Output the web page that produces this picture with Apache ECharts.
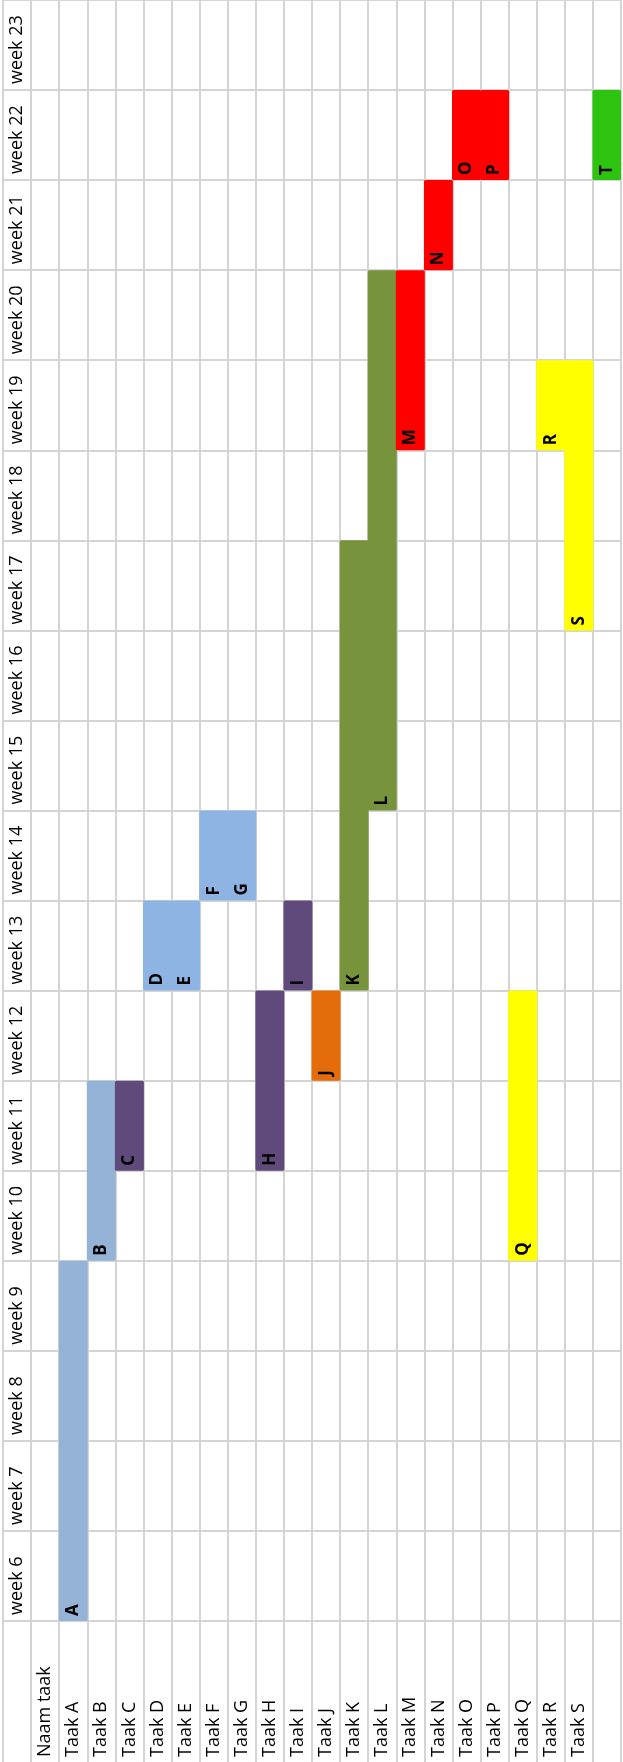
<!DOCTYPE html>
<html><head><meta charset="utf-8">
<script src="https://cdn.jsdelivr.net/npm/echarts@6/dist/echarts.min.js"></script>
<style>html,body{margin:0;padding:0;background:#fff}#c{width:623px;height:1762px}</style>
</head><body><div id="c"></div>
<script>
// Column labels (bottom, rotated); first column holds week labels, last column is unnamed (task T)
const columnLabels = ['', 'Naam taak', 'Taak A', 'Taak B', 'Taak C', 'Taak D', 'Taak E', 'Taak F', 'Taak G',
  'Taak H', 'Taak I', 'Taak J', 'Taak K', 'Taak L', 'Taak M', 'Taak N', 'Taak O', 'Taak P', 'Taak Q',
  'Taak R', 'Taak S', ''];
const weekLabels = ['week 6', 'week 7', 'week 8', 'week 9', 'week 10', 'week 11', 'week 12', 'week 13',
  'week 14', 'week 15', 'week 16', 'week 17', 'week 18', 'week 19', 'week 20', 'week 21', 'week 22', 'week 23'];
const firstWeek = 6;
const lastWeek = 23;

// Tasks (letter shown in bar), start week and number of weeks
const taskLetters = ['A','B','C','D','E','F','G','H','I','J','K','L','M','N','O','P','Q','R','S','T'];
const taskStart   = [6, 10, 11, 13, 13, 14, 14, 11, 13, 12, 13, 15, 19, 21, 22, 22, 10, 19, 17, 22];
const taskWeeks   = [4,  2,  1,  1,  1,  1,  1,  2,  1,  1,  5,  6,  2,  1,  1,  1,  3,  1,  3,  1];
const taskColors  = ['#95B3D7','#95B3D7','#604A7B','#8DB4E2','#8DB4E2','#8DB4E2','#8DB4E2','#604A7B',
  '#604A7B','#E46C0A','#77933C','#77933C','#FF0000','#FF0000','#FF0000','#FF0000','#FFFF00','#FFFF00',
  '#FFFF00','#2DC40F'];
const taskColumnOffset = 2; // task A sits in column 2

const nCols = columnLabels.length;
const baseData = new Array(nCols).fill(null);
const spanData = new Array(nCols).fill(null);
taskLetters.forEach((t, i) => {
  const c = i + taskColumnOffset;
  baseData[c] = taskStart[i];
  spanData[c] = {
    value: taskWeeks[i],
    name: t,
    itemStyle: { color: taskColors[i] }
  };
});

const gridColor = '#d4d4d4';
const chart = echarts.init(document.getElementById('c'), null, { renderer: 'canvas' });
chart.setOption({
  animation: false,
  backgroundColor: '#ffffff',
  grid: { left: 3, right: 2, top: -1, bottom: 141, containLabel: false },
  xAxis: {
    type: 'category',
    data: columnLabels.map((_, i) => 'c' + i),
    boundaryGap: true,
    axisLine: { show: true, lineStyle: { color: gridColor, width: 2 } },
    axisTick: { show: true, interval: 0, length: 141, lineStyle: { color: gridColor, width: 2 } },
    splitLine: { show: true, interval: 0, lineStyle: { color: gridColor, width: 2 } },
    axisLabel: {
      interval: 0,
      rotate: 90,
      align: 'left',
      verticalAlign: 'middle',
      margin: 136,
      color: '#000',
      fontFamily: 'Open Sans',
      fontSize: 18,
      formatter: (v, idx) => columnLabels[idx]
    }
  },
  yAxis: {
    type: 'value',
    min: firstWeek,
    max: lastWeek + 1,
    interval: 1,
    axisLine: { show: false },
    axisTick: { show: false },
    splitLine: { show: true, lineStyle: { color: gridColor, width: 2 } },
    axisLabel: {
      inside: true,
      margin: 14,
      rotate: 90,
      align: 'left',
      verticalAlign: 'middle',
      padding: [0, 0, 0, 6],
      color: '#000',
      fontFamily: 'Open Sans',
      fontSize: 18,
      showMinLabel: true,
      showMaxLabel: false,
      formatter: v => weekLabels[v - firstWeek] || ''
    }
  },
  series: [
    {
      type: 'bar',
      stack: 'g',
      silent: true,
      barWidth: 29,
      itemStyle: { color: 'rgba(0,0,0,0)' },
      data: baseData
    },
    {
      type: 'bar',
      stack: 'g',
      barWidth: 29,
      itemStyle: { borderRadius: 1.5 },
      label: {
        show: true,
        position: 'insideBottom',
        distance: 5,
        rotate: 90,
        align: 'left',
        verticalAlign: 'middle',
        color: '#000',
        fontFamily: 'Open Sans',
        fontWeight: 'bold',
        fontSize: 17,
        formatter: p => p.name
      },
      data: spanData
    }
  ]
});
</script>
</body></html>
